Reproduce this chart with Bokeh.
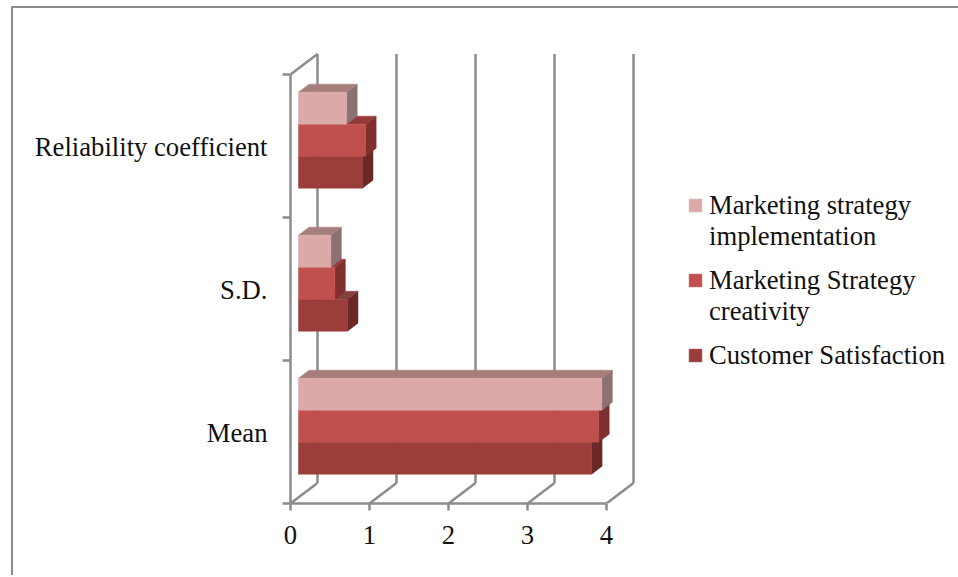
from bokeh.embed import file_html
from bokeh.models import FixedTicker, Legend, LegendItem, Range1d
from bokeh.plotting import figure
from bokeh.resources import INLINE

# Survey statistics per measure
categories = ["Mean", "S.D.", "Reliability coefficient"]
customer_satisfaction = [3.71, 0.62, 0.81]
strategy_creativity = [3.80, 0.46, 0.85]
strategy_implementation = [3.84, 0.41, 0.61]

value_ticks = [0, 1, 2, 3, 4]
series_names = ["Customer Satisfaction", "Marketing Strategy\ncreativity",
                "Marketing strategy\nimplementation"]

# Face colours of each series: front, top, side
series_colours = [
    ("#9b3d3b", "#84403e", "#6a2826"),
    ("#c0504d", "#963a38", "#7f302e"),
    ("#dbaaa8", "#a67f7d", "#8d7071"),
]

GREY = "#8c8c8c"
SERIF = "Liberation Serif"
FONT_SIZE = "26.67px"
X_SCALE, Y_SCALE = 79.0, 143.0               # pixels per data unit
WALL_DX, WALL_DY = 27 / X_SCALE, 20.5 / Y_SCALE  # depth of the 3D box
BAR_DX, BAR_DY = 10.5 / X_SCALE, 8 / Y_SCALE     # depth of a 3D bar
BAR_X0 = 8 / X_SCALE
BAR_H = 32 / Y_SCALE
GROUP_PAD = 0.205
LABEL_POS = 0.493                            # category label position within its band
PAGE_LEFT, PAGE_TOP = 13, 8                  # inner corner of the chart-area border

p = figure(
    frame_width=346, frame_height=453, output_backend="svg", toolbar_location=None,
    min_border_left=290 - PAGE_LEFT, min_border_right=62, min_border_top=50 - PAGE_TOP,
    min_border_bottom=74,
    x_range=Range1d(0, 346 / X_SCALE), y_range=Range1d(0, 453 / Y_SCALE),
    outline_line_color=None, background_fill_color="white",
)
p.grid.visible = False
p.styles = {
    "position": "absolute", "left": f"{PAGE_LEFT}px", "top": f"{PAGE_TOP}px",
    "box-sizing": "content-box",
    "outline": "none", "box-shadow": f"-2px -2px 0 0 {GREY}",
}

xa = p.xaxis[0]
xa.ticker = FixedTicker(ticks=value_ticks)
xa.bounds = (value_ticks[0], value_ticks[-1])
ya = p.yaxis[0]
centres = [i + LABEL_POS for i in range(len(categories))]
ya.ticker = FixedTicker(ticks=centres, minor_ticks=list(range(len(categories) + 1)))
ya.major_label_overrides = dict(zip(centres, categories))
ya.bounds = (0, len(categories))
for ax in (xa, ya):
    ax.axis_line_color = GREY
    ax.axis_line_width = 2.5
    ax.major_label_text_font = SERIF
    ax.major_label_text_font_size = FONT_SIZE
    ax.major_label_text_color = "#111111"
xa.major_tick_line_color = GREY
xa.major_tick_line_width = 2.5
xa.major_tick_in = 0
xa.major_tick_out = 7
xa.minor_tick_line_color = None
xa.major_label_standoff = 15
ya.major_tick_line_color = None
ya.major_tick_in = 0
ya.major_tick_out = 0
ya.minor_tick_line_color = GREY
ya.minor_tick_line_width = 2.5
ya.minor_tick_in = 0
ya.minor_tick_out = 8
ya.major_label_standoff = 15

# Back wall and floor of the 3D box
top = len(categories)
for t in value_ticks:
    p.line([t, t + WALL_DX], [0, WALL_DY], line_color=GREY, line_width=2.5)
    p.line([t + WALL_DX, t + WALL_DX], [WALL_DY, top + WALL_DY], line_color=GREY, line_width=2.5)
p.line([0, WALL_DX], [top, top + WALL_DY], line_color=GREY, line_width=2.5)

# Bars: lowest series first so the upper faces overlap correctly
legend_items = {}
all_series = [customer_satisfaction, strategy_creativity, strategy_implementation]
for g in range(len(categories)):
    for s, vals in enumerate(all_series):
        front, top_c, side = series_colours[s]
        x1 = BAR_X0 + vals[g]
        y0 = g + GROUP_PAD + s * BAR_H
        y1 = y0 + BAR_H
        p.patch([x1, x1 + BAR_DX, x1 + BAR_DX, x1], [y0, y0 + BAR_DY, y1 + BAR_DY, y1],
                fill_color=side, line_color=side, line_width=0.5)
        p.patch([BAR_X0, BAR_X0 + BAR_DX, x1 + BAR_DX, x1], [y1, y1 + BAR_DY, y1 + BAR_DY, y1],
                fill_color=top_c, line_color=top_c, line_width=0.5)
        r = p.quad(left=BAR_X0, right=x1, bottom=y0, top=y1,
                   fill_color=front, line_color=front, line_width=0.5)
        legend_items.setdefault(s, r)

legend = Legend(
    items=[LegendItem(label=series_names[s], renderers=[legend_items[s]]) for s in (2, 1, 0)],
    location=(51, 132), orientation="vertical", border_line_color=None, background_fill_alpha=0,
    label_text_font=SERIF, label_text_font_size=FONT_SIZE, label_text_color="#111111",
    glyph_width=16, glyph_height=16, spacing=13, padding=0, margin=0,
    label_standoff=6, click_policy="none",
)
# Swatch sits beside the first line of a wrapped label
legend.stylesheets = ["""
.bk-item { align-items: flex-start !important; }
.bk-item > :first-child { align-self: flex-start !important; transform: translateY(7px) !important; }
"""]
p.add_layout(legend, "right")

open("out.html", "w").write(file_html(p, INLINE))
